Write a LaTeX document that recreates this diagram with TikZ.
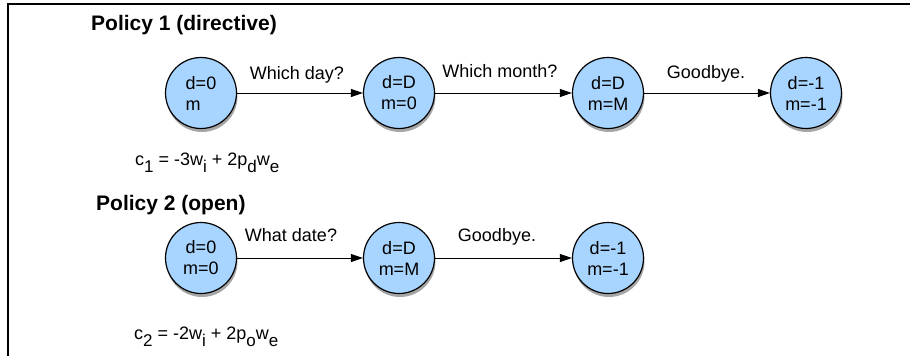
\documentclass[tikz,border=0pt]{standalone}
\usepackage{fontspec}
\setmainfont{Liberation Sans}
\usetikzlibrary{arrows.meta,shadows}
\definecolor{nodeblue}{RGB}{168,213,255}
\newcommand\sbx[1]{\raisebox{-7.5pt}{\fontsize{17}{17}\selectfont #1}}
\begin{document}
\begin{tikzpicture}[x=1pt,y=-1pt,
  state/.style={circle,draw=black,line width=1.2pt,fill=nodeblue,minimum size=71pt,inner sep=0pt,
    font=\fontsize{18}{21}\selectfont,align=center,
    drop shadow={shadow xshift=1pt,shadow yshift=-3.5pt,opacity=0.35,fill=black}},
  lbl/.style={anchor=base,font=\fontsize{18}{21}\selectfont,inner sep=0pt},
  ttl/.style={anchor=base west,font=\fontsize{21}{25}\selectfont\bfseries,inner sep=0pt},
  frm/.style={anchor=base west,font=\fontsize{18}{21}\selectfont,inner sep=0pt},
  arr/.style={line width=1pt,-{Triangle[length=12pt,width=8pt]}},
  frame/.style={line width=2.6pt}]
\useasboundingbox (0,0) rectangle (910,356);
\draw[frame] (7.8,356) -- (7.8,4) -- (910,4);
% Policy 1
\node[ttl] (t1) at (91,30) {Policy 1 (directive)};
\node[state,align=left] (a1) at (201,93) {d=0\\m};
\node[state] (a2) at (399,93) {d=D\\m=0};
\node[state] (a3) at (608,93) {d=D\\m=M};
\node[state] (a4) at (806,93) {d=-1\\m=-1};
\draw[arr] (a1) -- (a2);
\draw[arr] (a2) -- (a3);
\draw[arr] (a3) -- (a4);
\node[lbl] (l1) at (297,79) {Which day?};
\node[lbl] (l2) at (500,77) {Which month?};
\node[lbl] (l3) at (706,78) {Goodbye.};
\node[frm] (f1) at (135,165) {c\sbx{1} = -3w\sbx{i} + 2p\sbx{d}w\sbx{e}};
% Policy 2
\node[ttl] (t2) at (96,210.5) {Policy 2 (open)};
\node[state] (b1) at (201,258) {d=0\\m=0};
\node[state] (b2) at (399,258) {d=D\\m=M};
\node[state] (b3) at (608,258) {d=-1\\m=-1};
\draw[arr] (b1) -- (b2);
\draw[arr] (b2) -- (b3);
\node[lbl] (k1) at (291,241.5) {What date?};
\node[lbl] (k2) at (497,241.5) {Goodbye.};
\node[frm] (f2) at (134,339) {c\sbx{2} = -2w\sbx{i} + 2p\sbx{o}w\sbx{e}};
\end{tikzpicture}
\end{document}
